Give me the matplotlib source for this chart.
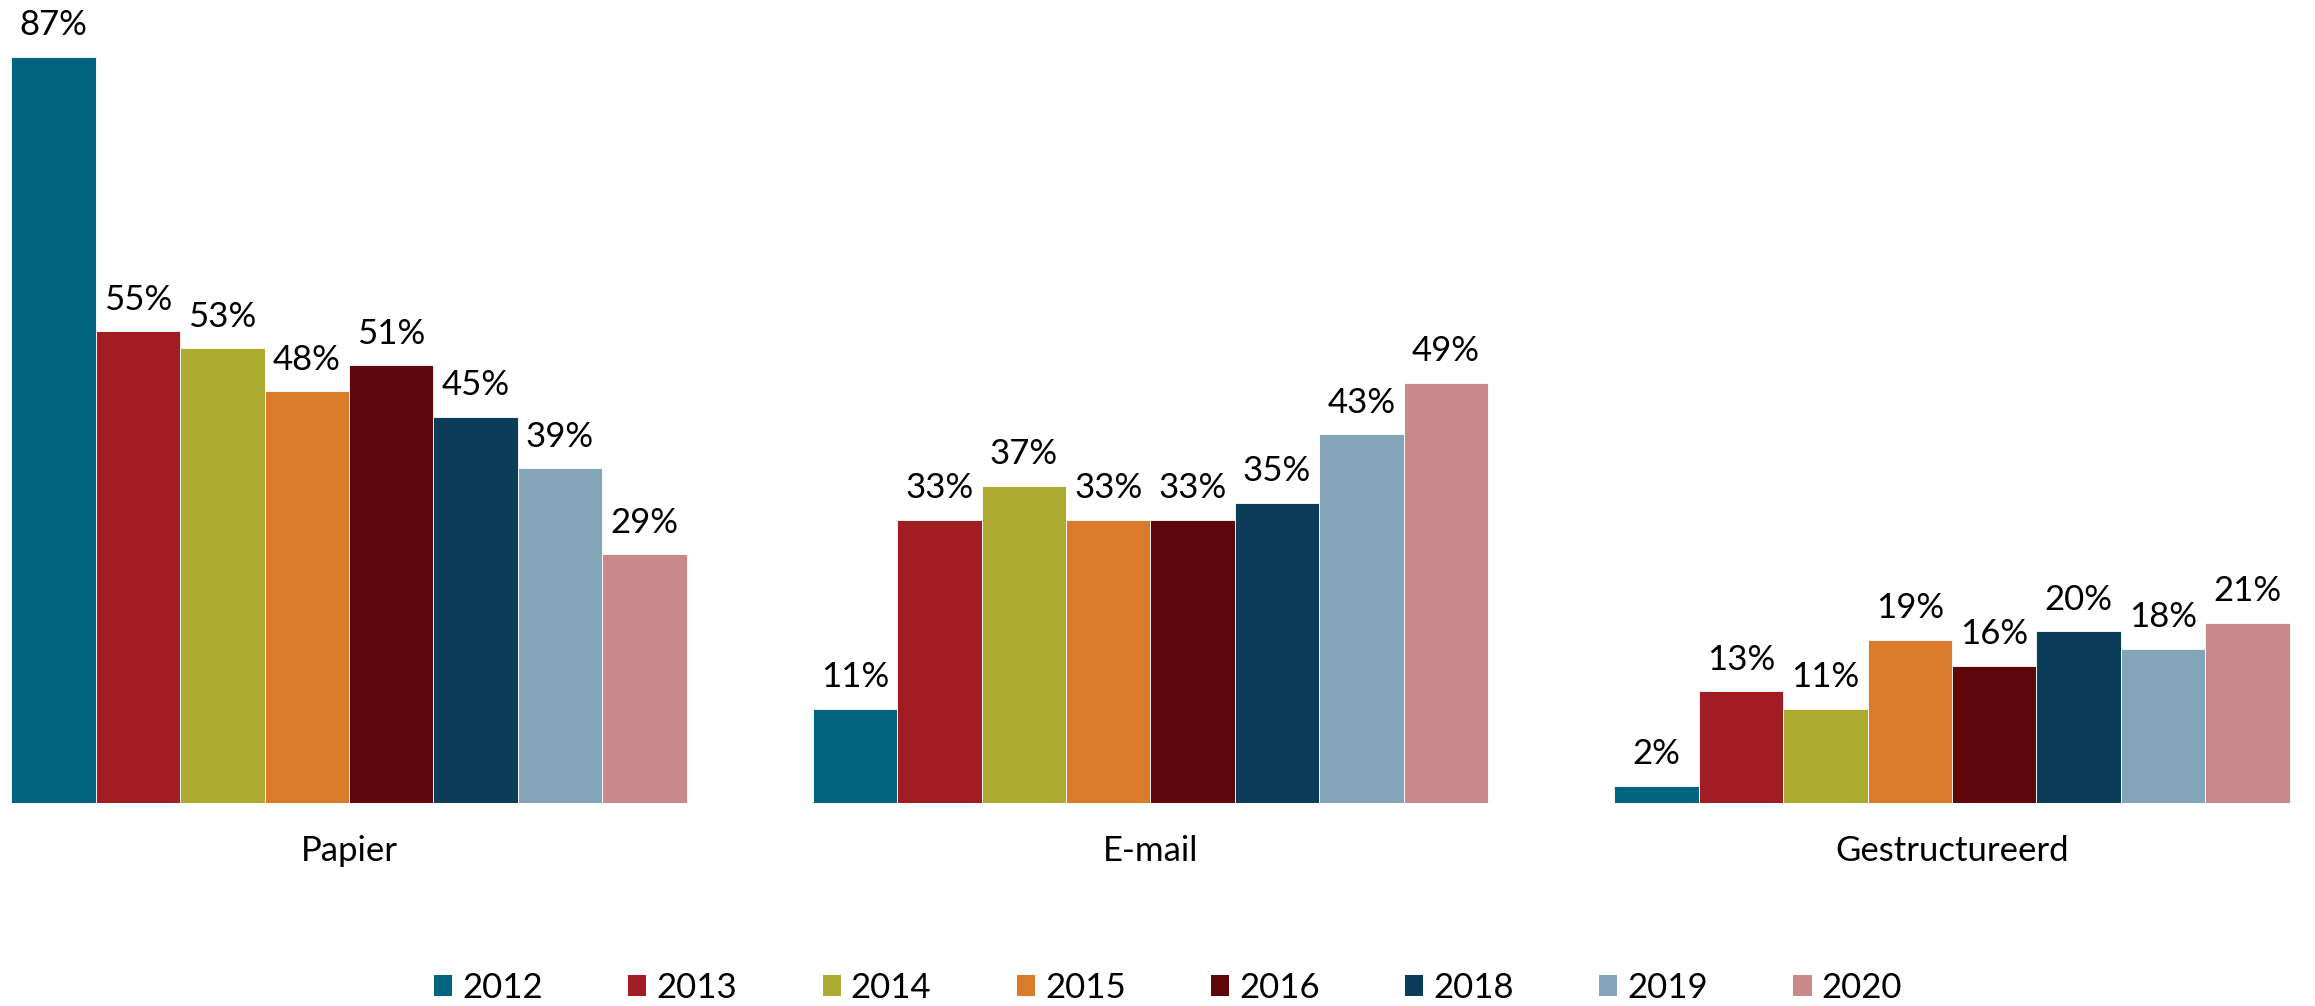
import matplotlib
matplotlib.use("Agg")
import matplotlib.pyplot as plt
import numpy as np
from matplotlib.patches import Patch

categories = ["Papier", "E-mail", "Gestructureerd"]
years = ["2012", "2013", "2014", "2015", "2016", "2018", "2019", "2020"]
values = {
    "2012": [87, 11, 2],
    "2013": [55, 33, 13],
    "2014": [53, 37, 11],
    "2015": [48, 33, 19],
    "2016": [51, 33, 16],
    "2018": [45, 35, 20],
    "2019": [39, 43, 18],
    "2020": [29, 49, 21],
}
colors = ["#036480", "#A11D23", "#ADAA32", "#DA7B2C", "#5D070B", "#0B3D59", "#84A4B8", "#C98889"]

plt.rcParams['font.family'] = ['Lato', 'DejaVu Sans']
FS = 25

fig = plt.figure(figsize=(23.15, 10.06), dpi=100)
ax = fig.add_axes([0, 203/1006, 1, 803/1006])

x = np.arange(len(categories))
bw = 0.1053
for i, y in enumerate(years):
    pos = x + (i - 3.5) * bw
    ax.bar(pos, values[y], width=bw, color=colors[i], edgecolor='white', linewidth=0.6, label=y)
    for p, v in zip(pos, values[y]):
        ax.annotate(f"{v}%", (p, v), xytext=(0, 15.5), textcoords='offset points',
                    ha='center', va='baseline', fontsize=FS, color='black')

ax.set_xlim(-0.4354, 2.4529)
ax.set_ylim(0, 93.6)
ax.set_xticks(x)
ax.set_xticklabels(categories, fontsize=FS)
ax.tick_params(axis='x', length=0, pad=23)
ax.set_yticks([])
for s in ax.spines.values():
    s.set_visible(False)
ax.patch.set_alpha(0)

handles = [Patch(facecolor=c, edgecolor='none') for c in colors]
fig.legend(handles, years, loc='center', bbox_to_anchor=(0.5046, 0.018), ncol=8,
           frameon=False, fontsize=FS, handlelength=0.52, handleheight=0.55,
           handletextpad=0.29, columnspacing=2.46, borderpad=0)

fig.savefig("out.png", dpi=100)
